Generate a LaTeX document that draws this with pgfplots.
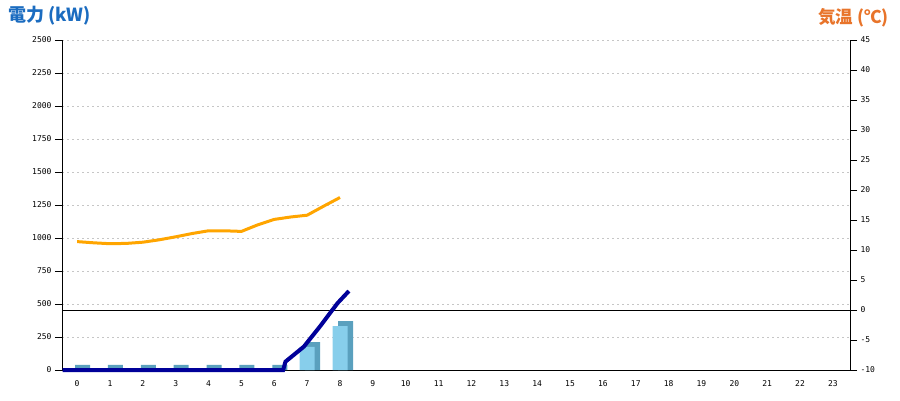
\documentclass[border=0pt]{standalone}
\usepackage{fontspec}
\usepackage{pgfplots}
\pgfplotsset{compat=1.18}
\setmainfont{DejaVu Sans}
\newfontfamily\tickfont{DejaVu Sans Mono}
\newfontfamily\cjk{Noto Sans CJK JP}
\definecolor{kwblue}{HTML}{1B6CC0}
\definecolor{temporange}{HTML}{E8742A}
\definecolor{barfront}{HTML}{87CEEB}
\definecolor{barside}{HTML}{5AA0BE}
\definecolor{powerline}{HTML}{000099}
\definecolor{templine}{HTML}{FFA500}

\pgfplotsset{
  base/.style={scale only axis, width=788pt, height=330pt,
    at={(62pt,30pt)}, anchor=south west, xmin=-0.46, xmax=23.52},
  ticks/.style={tick align=outside, major tick length=7pt,
    axis line style={-, black, line width=0.8pt},
    tick label style={font=\tickfont\fontsize{8}{9}\selectfont},
    /pgf/number format/assume math mode=true,
    /pgf/number format/1000 sep={}},
}

\begin{document}
\begin{tikzpicture}
\useasboundingbox (0,0) rectangle (900pt,400pt);

% kW axis: grid, left ticks, hours
\begin{axis}[base, ticks, ymin=0, ymax=2500, ytick={0,250,...,2500},
    xtick={0,...,23},
    axis x line*=bottom, axis y line*=left,
    x tick style={draw=none}, y tick style={black, line width=0.8pt},
    ymajorgrids, grid style={gray!45, dash pattern=on 2pt off 3pt}]
\end{axis}

% temperature axis
\begin{axis}[base, ticks, ymin=-10, ymax=45, ytick={-10,-5,...,45},
    axis x line=none, axis y line*=right,
    y tick style={black, line width=0.8pt}]
\addplot[black, line width=0.9pt] coordinates {(-0.46,0) (23.52,0)};
\addplot[templine, line width=3pt, line join=round] coordinates {
  (0,11.4) (0.5,11.2) (1,11.05) (1.5,11.1) (2,11.3) (2.5,11.7)
  (3,12.2) (3.5,12.75) (4,13.2) (4.5,13.2) (5,13.1) (5.5,14.2)
  (6,15.1) (6.5,15.5) (7,15.8) (7.5,17.3) (8,18.75)
};
\end{axis}

% bars and power line
\begin{axis}[base, ymin=0, ymax=2500, hide axis, clip=false,
    ybar, bar width=15pt]
\addplot[fill=barside, draw=none, bar shift=5.5pt] coordinates {
  (0,38) (1,38) (2,38) (3,38) (4,38) (5,38) (6,38) (7,212) (8,371)
};
\addplot[fill=barfront, draw=none, bar shift=0pt] coordinates {
  (7,176) (8,333)
};
\addplot[powerline, line width=4pt, sharp plot, mark=none] coordinates {
  (-0.44,0) (6.27,0) (6.34,63) (6.90,177) (7.41,336) (7.92,505) (8.27,598)
};
\end{axis}

\node[anchor=west, text=kwblue, inner sep=0,
  font=\cjk\bfseries\fontsize{18}{21}\selectfont] at (8pt,384pt) {電力 (kW)};
\node[anchor=east, text=temporange, inner sep=0,
  font=\cjk\bfseries\fontsize{17.5}{21}\selectfont] at (889pt,382pt) {気温 (℃)};
\end{tikzpicture}
\end{document}
